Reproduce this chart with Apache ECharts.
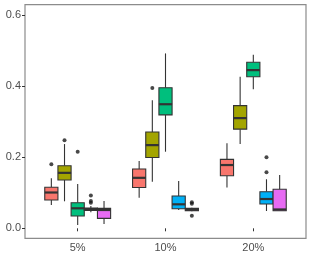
<!DOCTYPE html>
<html>
<head>
<meta charset="utf-8">
<script src="https://cdn.jsdelivr.net/npm/echarts@6/dist/echarts.min.js"></script>
<style>html,body{margin:0;padding:0;background:#fff;}#c{width:311px;height:259px;}</style>
</head>
<body>
<div id="c"></div>
<script>
var categories = ['5%', '10%', '20%'];
var yTicks = [0, 0.2, 0.4, 0.6];
var groupColors = ['#F8766D', '#A3A500', '#00BF7D', '#00B0F6', '#E76BF3'];
// each: per category [min, q1, median, q3, max]
var groupA = [[0.0655, 0.0796, 0.1007, 0.1153, 0.1406], [0.086, 0.115, 0.142, 0.167, 0.189], [0.115, 0.148, 0.178, 0.194, 0.239]];
var groupB = [[0.076, 0.136, 0.156, 0.176, 0.237], [0.131, 0.199, 0.234, 0.271, 0.360], [0.237, 0.279, 0.310, 0.345, 0.4265]];
var groupC = [[0.0093, 0.0346, 0.0563, 0.072, 0.1246], [0.2155, 0.319, 0.349, 0.3955, 0.492], [0.391, 0.4265, 0.445, 0.467, 0.488]];
var groupD = [[0.045, 0.050, 0.054, 0.057, 0.063], [0.0515, 0.055, 0.0675, 0.091, 0.133], [0.0487, 0.0684, 0.0824, 0.103, 0.138]];
var groupE = [[0.012, 0.028, 0.0515, 0.056, 0.0768], [0.048, 0.0495, 0.052, 0.056, 0.058], [0.0495, 0.0495, 0.053, 0.1097, 0.150]];
// outliers per category
var outA = [[0.180], [], []];
var outB = [[0.248], [0.395], []];
var outC = [[0.2155], [], []];
var outD = [[0.092, 0.077, 0.072], [], [0.200, 0.158]];
var outE = [[], [0.073, 0.069, 0.035], []];

var groups = [groupA, groupB, groupC, groupD, groupE];
var outs = [outA, outB, outC, outD, outE];
var nG = groups.length;
var dodge = 0.75 / nG;
var boxW = dodge;

var series = [];
groups.forEach(function (g, gi) {
  var off = (gi - (nG - 1) / 2) * dodge;
  var data = g.map(function (s, ci) { return [ci + 1 + off].concat(s); });
  var color = groupColors[gi];
  series.push({
    type: 'custom',
    data: data,
    encode: { x: 0, y: [1, 2, 3, 4, 5] },
    renderItem: function (params, api) {
      var xv = api.value(0);
      var lo = api.coord([xv, api.value(1)]);
      var q1 = api.coord([xv, api.value(2)]);
      var md = api.coord([xv, api.value(3)]);
      var q3 = api.coord([xv, api.value(4)]);
      var hi = api.coord([xv, api.value(5)]);
      var w = api.size([boxW, 0])[0];
      var x = lo[0];
      var ls = { stroke: '#333333', lineWidth: 1.1 };
      return {
        type: 'group',
        children: [
          { type: 'line', shape: { x1: x, y1: hi[1], x2: x, y2: q3[1] }, style: ls },
          { type: 'line', shape: { x1: x, y1: q1[1], x2: x, y2: lo[1] }, style: ls },
          { type: 'rect', shape: { x: x - w / 2, y: q3[1], width: w, height: q1[1] - q3[1] }, style: { fill: color, stroke: '#333333', lineWidth: 1.1 } },
          { type: 'line', shape: { x1: x - w / 2, y1: md[1], x2: x + w / 2, y2: md[1] }, style: { stroke: '#333333', lineWidth: 2.2 } }
        ]
      };
    }
  });
  var od = [];
  outs[gi].forEach(function (arr, ci) {
    arr.forEach(function (v) { od.push([ci + 1 + off, v]); });
  });
  series.push({
    type: 'scatter',
    data: od,
    symbolSize: 4,
    itemStyle: { color: '#1a1a1a' },
    silent: true
  });
});

var chart = echarts.init(document.getElementById('c'), null, { renderer: 'canvas' });
chart.setOption({
  animation: false,
  grid: { left: 25, right: 5, top: 4.7, bottom: 20.7, show: true, borderColor: '#8c8c8c', borderWidth: 1.2, backgroundColor: 'transparent' },
  xAxis: {
    type: 'value', min: 0.4, max: 3.6,
    splitLine: { show: false },
    axisLine: { show: false },
    axisTick: { show: true, length: 3, lineStyle: { color: '#333' }, customValues: [1, 2, 3] },
    axisLabel: { customValues: [1, 2, 3], margin: 4, color: '#4d4d4d', fontSize: 11, fontFamily: 'Liberation Sans', formatter: function (v) { return categories[Math.round(v) - 1]; } }
  },
  yAxis: {
    type: 'value', min: -0.0281, max: 0.629,
    splitLine: { show: false },
    axisLine: { show: false },
    axisTick: { show: true, length: 3, lineStyle: { color: '#333' }, customValues: yTicks },
    axisLabel: { customValues: yTicks, margin: 4, color: '#4d4d4d', fontSize: 11, fontFamily: 'Liberation Sans', formatter: function (v) { return v.toFixed(1); } }
  },
  series: series
});
</script>
</body>
</html>
